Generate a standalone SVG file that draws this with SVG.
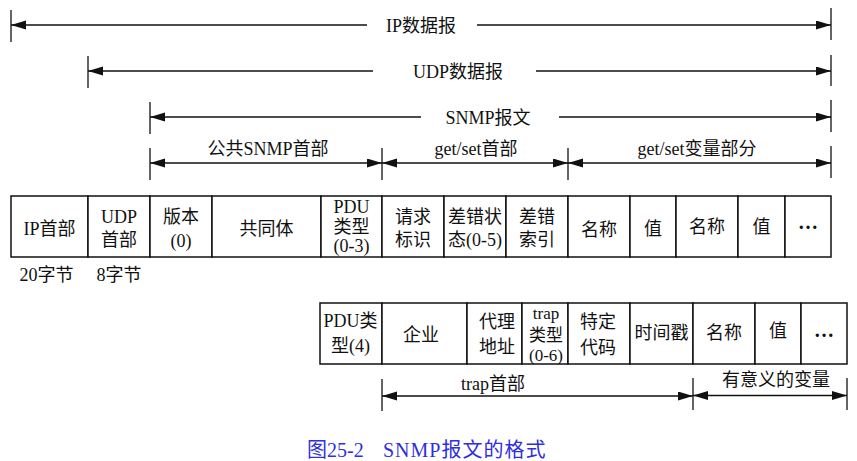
<svg xmlns="http://www.w3.org/2000/svg" width="857" height="461" viewBox="0 0 857 461">
<defs>
<marker id="ah" markerUnits="userSpaceOnUse" markerWidth="17" markerHeight="10" refX="15" refY="4.5" orient="auto-start-reverse">
<path d="M0,0 L15,4.5 L0,9 z" fill="#111"/>
</marker>
</defs>
<style>
text{font-family:"Liberation Serif","Noto Sans CJK SC",serif;font-size:18px;fill:#111;text-anchor:middle}
.box{fill:#fff;stroke:#111;stroke-width:1.5}
.dim{fill:none;stroke:#111;stroke-width:1.3}
.tick{stroke:#111;stroke-width:1.3}
.sm{font-size:17px}
.dots{font-size:20px;font-weight:bold}
.cap{fill:#2f2fe0;font-size:20px;text-anchor:start}
</style>
<rect width="857" height="461" fill="#fff"/>

<g id="connectors">
<line class="tick" x1="11" y1="10" x2="11" y2="42"/>
<line class="tick" x1="831" y1="8" x2="831" y2="40"/>
<path class="dim" d="M367,25 H11" marker-end="url(#ah)"/>
<path class="dim" d="M477,25 H831" marker-end="url(#ah)"/>
<line class="tick" x1="88" y1="56" x2="88" y2="88"/>
<line class="tick" x1="831" y1="55" x2="831" y2="86"/>
<path class="dim" d="M373,71 H88" marker-end="url(#ah)"/>
<path class="dim" d="M536,71 H831" marker-end="url(#ah)"/>
<line class="tick" x1="150" y1="102" x2="150" y2="134"/>
<line class="tick" x1="831" y1="100" x2="831" y2="132"/>
<path class="dim" d="M421,117 H150" marker-end="url(#ah)"/>
<path class="dim" d="M559,117 H831" marker-end="url(#ah)"/>
<line class="tick" x1="150" y1="148" x2="150" y2="180"/>
<line class="tick" x1="382" y1="148" x2="382" y2="180"/>
<line class="tick" x1="568" y1="148" x2="568" y2="180"/>
<line class="tick" x1="831" y1="146" x2="831" y2="178"/>
<path class="dim" d="M150,163 H382" marker-start="url(#ah)" marker-end="url(#ah)"/>
<path class="dim" d="M382,163 H568" marker-start="url(#ah)" marker-end="url(#ah)"/>
<path class="dim" d="M568,163 H831" marker-start="url(#ah)" marker-end="url(#ah)"/>
<line class="tick" x1="382" y1="379" x2="382" y2="411"/>
<line class="tick" x1="693" y1="378" x2="693" y2="410"/>
<line class="tick" x1="847" y1="378" x2="847" y2="410"/>
<path class="dim" d="M382,396 H693" marker-start="url(#ah)" marker-end="url(#ah)"/>
<path class="dim" d="M693,395.5 H847" marker-start="url(#ah)" marker-end="url(#ah)"/>
</g>

<g id="dimension-labels">
<text x="421" y="32">IP数据报</text>
<text x="458" y="78">UDP数据报</text>
<text x="488" y="124">SNMP报文</text>
<text x="268" y="155">公共SNMP首部</text>
<text x="476" y="155">get/set首部</text>
<text x="697" y="155">get/set变量部分</text>
<text x="493" y="390">trap首部</text>
<text x="776" y="386">有意义的变量</text>
</g>

<g id="ip-header"><rect class="box" x="11" y="196" width="77" height="61"/><text x="49.5" y="235">IP首部</text></g>
<g id="udp-header"><rect class="box" x="88" y="196" width="62" height="61"/><text x="119" y="223">UDP</text><text x="119" y="246">首部</text></g>
<g id="version"><rect class="box" x="150" y="196" width="62" height="61"/><text x="181" y="223">版本</text><text x="181" y="247">(0)</text></g>
<g id="community"><rect class="box" x="212" y="196" width="109" height="61"/><text x="266.5" y="235">共同体</text></g>
<g id="pdu-type"><rect class="box" x="321" y="196" width="61" height="61"/><text x="351.5" y="213">PDU</text><text x="351.5" y="233">类型</text><text x="351.5" y="252">(0-3)</text></g>
<g id="request-id"><rect class="box" x="382" y="196" width="62" height="61"/><text x="413" y="223">请求</text><text x="413" y="246">标识</text></g>
<g id="error-status"><rect class="box" x="444" y="196" width="62" height="61"/><text x="475" y="223">差错状</text><text x="475" y="246">态(0-5)</text></g>
<g id="error-index"><rect class="box" x="506" y="196" width="62" height="61"/><text x="537" y="223">差错</text><text x="537" y="246">索引</text></g>
<g id="name1"><rect class="box" x="568" y="196" width="62" height="61"/><text x="599" y="236">名称</text></g>
<g id="value1"><rect class="box" x="630" y="196" width="46" height="61"/><text x="653" y="235">值</text></g>
<g id="name2"><rect class="box" x="676" y="196" width="62" height="61"/><text x="707" y="233">名称</text></g>
<g id="value2"><rect class="box" x="738" y="196" width="47" height="61"/><text x="761.5" y="233">值</text></g>
<g id="more1"><rect class="box" x="785" y="196" width="46" height="61"/><text class="dots" x="808" y="229">…</text></g>

<g id="ip-size"><text x="46.5" y="281">20字节</text></g>
<g id="udp-size"><text x="119" y="281">8字节</text></g>

<g id="trap-pdu-type"><rect class="box" x="320" y="303" width="62" height="61"/><text x="350.5" y="327">PDU类</text><text x="350.5" y="352">型(4)</text></g>
<g id="enterprise"><rect class="box" x="382" y="303" width="85" height="61"/><text x="421" y="341">企业</text></g>
<g id="agent-addr"><rect class="box" x="467" y="303" width="55" height="61"/><text x="497" y="328">代理</text><text x="497" y="353">地址</text></g>
<g id="trap-type"><rect class="box" x="522" y="303" width="46" height="61"/><text class="sm" x="546" y="319">trap</text><text class="sm" x="546" y="341">类型</text><text class="sm" x="546" y="361">(0-6)</text></g>
<g id="specific-code"><rect class="box" x="568" y="303" width="62" height="61"/><text x="598" y="328">特定</text><text x="598" y="354">代码</text></g>
<g id="timestamp"><rect class="box" x="630" y="303" width="63" height="61"/><text x="661.5" y="339">时间戳</text></g>
<g id="name3"><rect class="box" x="693" y="303" width="62" height="61"/><text x="724" y="339">名称</text></g>
<g id="value3"><rect class="box" x="755" y="303" width="46" height="61"/><text x="778" y="337">值</text></g>
<g id="more2"><rect class="box" x="801" y="303" width="46" height="61"/><text class="dots" x="824" y="337">…</text></g>

<g id="caption"><text class="cap" x="307" y="457">图25-2</text><text class="cap" x="383" y="457" letter-spacing="1">SNMP报文的格式</text></g>
</svg>
